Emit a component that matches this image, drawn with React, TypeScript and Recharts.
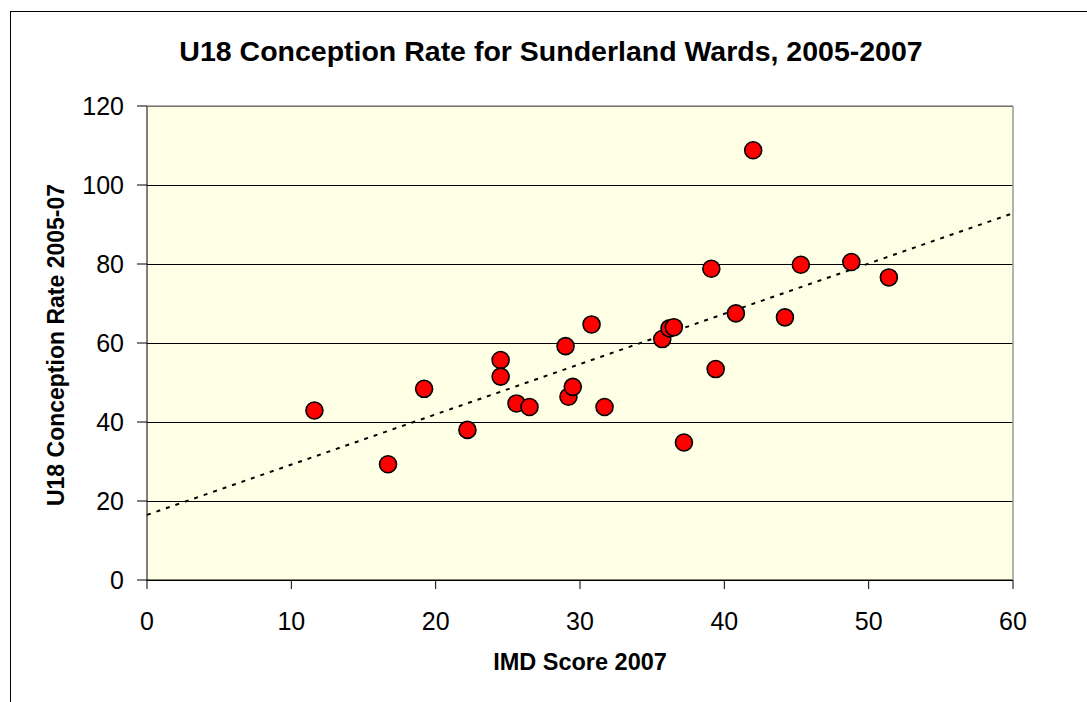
import React from "react";
import { ScatterChart, Scatter, XAxis, YAxis, CartesianGrid } from "recharts";

// IMD score 2007 per ward (x) and U18 conception rate 2005-07 (y)
const imdScores = [
  11.6, 16.7, 19.2, 22.2, 24.5, 24.5, 25.6, 26.5, 29.0, 30.8, 29.2, 29.5, 31.7,
  35.7, 36.2, 36.5, 37.2, 39.1, 39.4, 40.8, 42.0, 44.2, 45.3, 48.8, 51.4,
];
const conceptionRates = [
  42.9, 29.3, 48.4, 38.0, 55.7, 51.5, 44.7, 43.8, 59.2, 64.7, 46.4, 48.9, 43.8,
  61.0, 63.7, 64.0, 34.8, 78.8, 53.4, 67.5, 108.8, 66.5, 79.8, 80.5, 76.6,
];
const xTicks = [0, 10, 20, 30, 40, 50, 60];
const yTicks = [0, 20, 40, 60, 80, 100, 120];

const FONT = '"Liberation Sans", Arial, sans-serif';

const points = imdScores.map((x, i) => ({ x, y: conceptionRates[i] }));

// linear trendline (least squares), like Excel's
function trend() {
  const n = points.length;
  const mx = points.reduce((s, p) => s + p.x, 0) / n;
  const my = points.reduce((s, p) => s + p.y, 0) / n;
  let sxy = 0;
  let sxx = 0;
  points.forEach((p) => {
    sxy += (p.x - mx) * (p.y - my);
    sxx += (p.x - mx) * (p.x - mx);
  });
  const m = sxy / sxx;
  const b = my - m * mx;
  const x0 = xTicks[0];
  const x1 = xTicks[xTicks.length - 1];
  return [
    { x: x0, y: b + m * x0 },
    { x: x1, y: b + m * x1 },
  ];
}

const RedDot = (props: any) => {
  const { cx, cy } = props;
  if (cx == null || cy == null) return null;
  return <circle cx={cx} cy={cy} r={8.5} fill="#ff0000" stroke="#000" strokeWidth={1.6} />;
};

export default function App() {
  return (
    <div style={{ position: "absolute", left: 0, top: 0, width: 1087, height: 702, overflow: "hidden", background: "#fff" }}>
      <div style={{ position: "absolute", left: 10, top: 11, width: 1100, height: 720, border: "1px solid #000" }} />
      <div style={{ position: "absolute", left: 0, top: 0 }}>
        <ScatterChart width={1087} height={702} margin={{ top: 106, right: 74, bottom: 0, left: 0 }}>
          <CartesianGrid vertical={false} stroke="#000" strokeWidth={1} shapeRendering="crispEdges" fill="#ffffe6" />
          <XAxis
            type="number"
            dataKey="x"
            domain={[0, 60]}
            ticks={xTicks}
            height={122}
            tickSize={9}
            tickMargin={23}
            stroke="#000"
            tick={{ fill: "#000", fontSize: 25, fontFamily: FONT }}
          />
          <YAxis
            type="number"
            dataKey="y"
            domain={[0, 120]}
            ticks={yTicks}
            width={147}
            tickSize={10}
            tickMargin={13}
            stroke="#000"
            tick={{ fill: "#000", fontSize: 25, fontFamily: FONT }}
          />
          <Scatter
            data={trend()}
            line={{ stroke: "#000", strokeWidth: 2, strokeDasharray: "4 6" }}
            shape={() => null}
            isAnimationActive={false}
          />
          <Scatter data={points} shape={RedDot} isAnimationActive={false} />
        </ScatterChart>
      </div>
      <svg width={1087} height={702} style={{ position: "absolute", left: 0, top: 0, pointerEvents: "none" }}>
        <line x1={1013} y1={106} x2={1013} y2={580} stroke="#999" strokeWidth={1.5} />
        <line x1={147} y1={106} x2={1013} y2={106} stroke="#999" strokeWidth={1.5} />
        <text x={551} y={61} textAnchor="middle" fontFamily={FONT} fontWeight="bold" fontSize={28.5} fill="#000">
          U18 Conception Rate for Sunderland Wards, 2005-2007
        </text>
        <text x={580} y={670} textAnchor="middle" fontFamily={FONT} fontWeight="bold" fontSize={23.5} fill="#000">
          IMD Score 2007
        </text>
        <text
          transform="translate(64,345) rotate(-90)"
          textAnchor="middle"
          fontFamily={FONT}
          fontWeight="bold"
          fontSize={23}
          fill="#000"
        >
          U18 Conception Rate 2005-07
        </text>
      </svg>
    </div>
  );
}
